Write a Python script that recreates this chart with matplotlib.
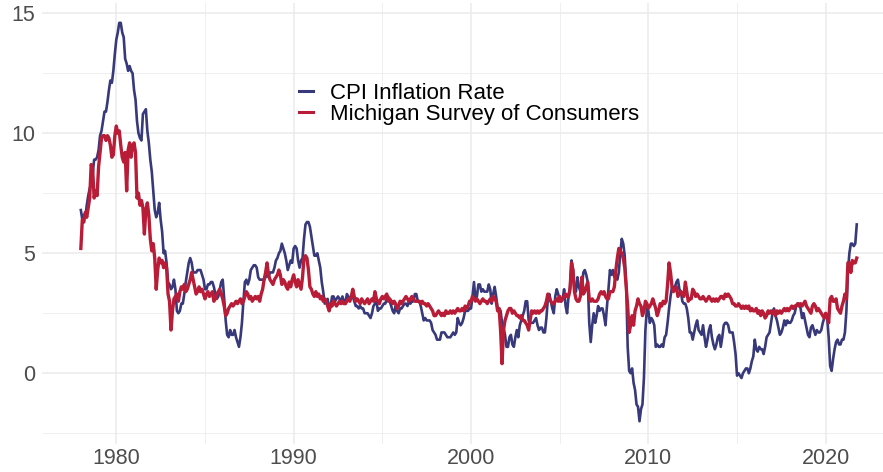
import numpy as np
import matplotlib.pyplot as plt
from matplotlib.ticker import MultipleLocator

# monthly values, Jan 1978 .. Oct 2021
start_year = 1978

cpi_rate = [
    6.8, 6.4, 6.6, 6.5, 7.0, 7.4, 7.7, 7.9, 8.3, 8.9, 8.9, 9.0,
    9.3, 9.9, 10.1, 10.5, 10.9, 10.9, 11.3, 11.8, 12.2, 12.1, 12.6, 13.3,
    13.9, 14.2, 14.6, 14.6, 14.2, 14.0, 13.1, 12.9, 12.6, 12.8, 12.6, 12.5,
    11.8, 11.4, 10.5, 10.0, 9.8, 9.7, 10.8, 10.9, 11.0, 10.1, 9.6, 8.9,
    8.4, 7.6, 6.8, 6.5, 6.7, 7.1, 6.4, 5.9, 5.0, 5.1, 4.6, 3.8,
    3.7, 3.5, 3.6, 3.9, 3.5, 2.6, 2.5, 2.6, 2.9, 2.9, 3.3, 3.8,
    4.2, 4.6, 4.8, 4.6, 4.2, 4.2, 4.2, 4.3, 4.3, 4.3, 4.1, 3.9,
    3.5, 3.5, 3.7, 3.7, 3.8, 3.8, 3.6, 3.3, 3.1, 3.2, 3.5, 3.8,
    3.9, 3.1, 2.2, 1.6, 1.5, 1.8, 1.6, 1.6, 1.8, 1.5, 1.3, 1.1,
    1.5, 2.1, 3.0, 3.8, 3.9, 3.7, 3.9, 4.3, 4.4, 4.5, 4.5, 4.4,
    4.0, 3.9, 3.9, 3.9, 3.9, 4.0, 4.1, 4.0, 4.2, 4.2, 4.2, 4.4,
    4.7, 4.8, 5.0, 5.1, 5.4, 5.2, 5.0, 4.7, 4.3, 4.5, 4.7, 4.6,
    5.2, 5.3, 5.2, 4.7, 4.4, 4.7, 4.8, 5.6, 6.2, 6.3, 6.3, 6.1,
    5.7, 5.3, 4.9, 4.9, 5.0, 4.7, 4.4, 3.8, 3.4, 2.9, 3.0, 3.1,
    2.6, 2.8, 3.2, 3.2, 3.0, 3.1, 3.2, 3.1, 3.0, 3.2, 3.0, 2.9,
    3.3, 3.2, 3.1, 3.2, 3.2, 3.0, 2.8, 2.8, 2.7, 2.8, 2.7, 2.7,
    2.5, 2.5, 2.5, 2.4, 2.3, 2.5, 2.8, 2.9, 3.0, 2.6, 2.7, 2.7,
    2.8, 2.9, 2.9, 3.1, 3.2, 3.0, 2.8, 2.6, 2.5, 2.8, 2.6, 2.5,
    2.7, 2.7, 2.8, 2.9, 2.9, 2.8, 3.0, 2.9, 3.0, 3.0, 3.3, 3.3,
    3.0, 3.0, 2.8, 2.5, 2.2, 2.3, 2.2, 2.2, 2.2, 2.1, 1.8, 1.7,
    1.6, 1.4, 1.4, 1.4, 1.7, 1.7, 1.7, 1.6, 1.5, 1.5, 1.5, 1.6,
    1.7, 1.6, 1.7, 2.3, 2.1, 2.0, 2.1, 2.3, 2.6, 2.6, 2.6, 2.7,
    2.7, 3.2, 3.8, 3.1, 3.2, 3.7, 3.7, 3.4, 3.5, 3.4, 3.4, 3.4,
    3.7, 3.5, 2.9, 3.3, 3.6, 3.2, 2.7, 2.7, 2.6, 2.1, 1.9, 1.6,
    1.1, 1.1, 1.5, 1.6, 1.2, 1.1, 1.5, 1.8, 1.5, 2.0, 2.2, 2.4,
    2.6, 3.0, 3.0, 2.2, 2.1, 2.1, 2.1, 2.2, 2.3, 2.0, 1.8, 1.9,
    1.9, 1.7, 1.7, 2.3, 3.1, 3.3, 3.0, 2.7, 2.5, 3.2, 3.5, 3.3,
    3.0, 3.0, 3.1, 3.5, 2.8, 2.5, 3.2, 3.6, 4.7, 4.3, 3.5, 3.4,
    4.0, 3.6, 3.4, 3.5, 4.2, 4.3, 4.1, 3.8, 2.1, 1.3, 2.0, 2.5,
    2.1, 2.4, 2.8, 2.6, 2.7, 2.7, 2.4, 2.0, 2.8, 3.5, 4.3, 4.1,
    4.3, 4.0, 4.0, 3.9, 4.2, 5.0, 5.6, 5.4, 4.9, 3.7, 1.1, 0.1,
    0.0, 0.2, -0.4, -0.7, -1.3, -1.4, -2.0, -1.5, -1.3, -0.2, 1.8, 2.7,
    2.6, 2.1, 2.3, 2.2, 2.0, 1.1, 1.2, 1.1, 1.1, 1.2, 1.1, 1.5,
    1.6, 2.1, 2.7, 3.2, 3.6, 3.6, 3.6, 3.8, 3.9, 3.5, 3.4, 3.0,
    2.9, 2.9, 2.7, 2.3, 1.7, 1.7, 1.4, 1.7, 2.0, 2.2, 1.8, 1.7,
    1.6, 2.0, 1.5, 1.1, 1.4, 1.8, 2.0, 1.5, 1.2, 1.0, 1.2, 1.5,
    1.6, 1.1, 1.5, 2.0, 2.1, 2.1, 2.0, 1.7, 1.7, 1.7, 1.3, 0.8,
    -0.1, 0.0, -0.1, -0.2, 0.0, 0.1, 0.2, 0.2, 0.0, 0.2, 0.5, 0.7,
    1.4, 1.0, 0.9, 1.1, 1.0, 1.0, 0.8, 1.1, 1.5, 1.6, 1.7, 2.1,
    2.5, 2.7, 2.4, 2.2, 1.9, 1.6, 1.7, 1.9, 2.2, 2.0, 2.2, 2.1,
    2.1, 2.2, 2.4, 2.5, 2.8, 2.9, 2.9, 2.7, 2.3, 2.5, 2.2, 1.9,
    1.6, 1.5, 1.9, 2.0, 1.8, 1.6, 1.8, 1.7, 1.7, 1.8, 2.1, 2.3,
    2.5, 2.3, 1.5, 0.3, 0.1, 0.6, 1.0, 1.3, 1.4, 1.2, 1.2, 1.4,
    1.4, 1.7, 2.6, 4.2, 5.0, 5.4, 5.4, 5.3, 5.4, 6.2,
]

michigan = [
    5.2, 6.4, 6.3, 6.7, 6.5, 6.9, 7.3, 8.7, 8.5, 7.3, 7.6, 7.4,
    8.6, 9.2, 9.8, 9.9, 9.9, 9.7, 9.9, 9.8, 9.5, 9.0, 9.1, 9.9,
    10.3, 10.0, 10.1, 9.5, 9.0, 8.8, 9.2, 7.6, 9.3, 9.6, 9.0, 9.5,
    9.6, 9.2, 7.3, 7.5, 7.0, 7.2, 6.9, 5.8, 6.8, 7.1, 6.6, 5.6,
    5.1, 5.4, 4.8, 3.5, 4.3, 4.8, 4.6, 4.7, 4.4, 4.6, 4.4, 3.3,
    3.0, 1.8, 2.6, 3.1, 3.2, 3.3, 3.0, 3.4, 3.6, 3.5, 3.7, 3.4,
    3.5, 3.7, 3.9, 4.2, 3.9, 3.6, 3.3, 3.4, 3.6, 3.4, 3.5, 3.3,
    3.1, 3.3, 3.4, 3.2, 3.3, 3.4, 3.0, 3.1, 3.3, 3.4, 3.5, 3.3,
    3.1, 2.8, 2.4, 2.5, 2.7, 2.8, 2.9, 2.8, 2.9, 3.0, 2.9, 3.0,
    3.1, 2.9, 3.0, 3.2, 3.4, 3.3, 3.1, 3.2, 3.0, 3.1, 3.2, 3.1,
    3.2, 3.0, 3.3, 3.5, 3.9, 4.2, 4.6, 4.1, 3.9, 3.8, 3.7, 3.9,
    4.0, 4.1, 4.3, 4.1, 3.7, 3.9, 3.8, 3.6, 3.5, 3.8, 3.6, 3.9,
    4.1, 3.8, 3.6, 3.9, 3.7, 3.5, 4.0, 4.8, 4.9, 4.8, 4.3, 3.6,
    3.5, 3.3, 3.2, 3.4, 3.2, 3.3, 3.1, 3.2, 3.0, 3.1, 3.0, 2.8,
    2.6, 2.9, 2.8, 3.0, 2.9, 2.8, 2.9, 3.0, 2.9, 3.0, 2.9, 2.9,
    3.0, 3.1, 3.0, 3.2, 3.5, 3.2, 3.0, 3.1, 3.0, 2.9, 3.1, 3.0,
    2.9, 3.0, 3.1, 2.9, 3.0, 3.1, 3.0, 3.4, 3.1, 3.0, 2.9, 3.1,
    3.2, 3.1, 3.2, 3.3, 3.0, 3.1, 3.0, 2.9, 3.0, 2.9, 2.7, 2.8,
    3.0, 2.9, 3.0, 3.1, 3.2, 3.1, 3.0, 3.1, 3.2, 3.1, 3.0, 3.0,
    3.0, 3.0, 2.9, 3.0, 2.9, 2.9, 2.8, 2.9, 2.8, 2.7, 2.6, 2.4,
    2.4, 2.5, 2.6, 2.5, 2.4, 2.5, 2.4, 2.6, 2.5, 2.5, 2.6, 2.5,
    2.6, 2.5, 2.6, 2.7, 2.6, 2.6, 2.7, 2.6, 2.8, 2.7, 2.8, 3.0,
    3.0, 3.2, 3.1, 3.0, 3.1, 3.0, 2.9, 3.0, 3.1, 3.0, 3.0, 2.9,
    3.0, 3.1, 3.0, 3.2, 3.1, 3.0, 2.6, 2.7, 1.8, 0.4, 1.8, 2.2,
    2.4, 2.6, 2.7, 2.7, 2.5, 2.6, 2.5, 2.4, 2.4, 2.3, 2.4, 2.2,
    2.2, 2.1, 2.0, 1.8, 2.2, 2.6, 2.5, 2.6, 2.5, 2.6, 2.5, 2.6,
    2.6, 2.7, 2.8, 3.0, 3.3, 3.1, 3.0, 2.9, 2.9, 3.0, 3.1, 3.0,
    3.2, 3.0, 3.1, 3.2, 3.3, 3.2, 3.2, 3.5, 4.6, 4.3, 3.4, 3.1,
    3.0, 3.0, 3.2, 4.0, 3.3, 3.4, 3.6, 3.8, 3.1, 3.0, 3.1, 3.0,
    3.0, 3.0, 3.1, 3.3, 3.4, 3.3, 3.4, 3.2, 3.1, 3.1, 3.4, 3.4,
    3.4, 3.6, 4.3, 4.8, 5.2, 5.1, 5.0, 4.8, 4.4, 3.6, 2.8, 1.7,
    2.0, 2.4, 2.0, 2.6, 2.8, 3.1, 2.9, 2.8, 2.4, 2.6, 3.0, 2.9,
    2.7, 2.8, 2.9, 3.1, 2.9, 2.7, 2.4, 2.6, 2.9, 2.8, 3.0, 2.9,
    3.0, 3.7, 4.6, 4.2, 3.6, 3.4, 3.5, 3.6, 3.2, 3.3, 3.4, 3.3,
    3.2, 3.8, 3.4, 3.0, 3.1, 3.1, 3.5, 3.4, 3.2, 3.3, 3.2, 3.1,
    3.1, 3.2, 3.1, 3.0, 3.1, 3.2, 3.1, 3.0, 3.1, 3.0, 3.1, 3.0,
    3.1, 3.2, 3.2, 3.1, 3.3, 3.2, 3.3, 3.2, 3.1, 2.9, 2.9, 2.8,
    2.8, 2.9, 2.8, 2.7, 2.8, 2.7, 2.8, 2.7, 2.8, 2.6, 2.7, 2.6,
    2.6, 2.7, 2.5, 2.6, 2.4, 2.6, 2.5, 2.3, 2.4, 2.6, 2.5, 2.6,
    2.5, 2.6, 2.4, 2.6, 2.5, 2.6, 2.5, 2.6, 2.7, 2.6, 2.7, 2.6,
    2.7, 2.8, 2.7, 2.8, 2.8, 2.9, 2.8, 2.9, 2.8, 2.9, 3.0, 2.8,
    2.7, 2.6, 2.5, 2.8, 2.9, 2.8, 2.6, 2.7, 2.6, 2.5, 2.4, 2.3,
    2.5, 2.4, 2.1, 3.1, 3.2, 3.0, 3.0, 3.1, 2.7, 2.6, 2.5, 2.8,
    3.0, 3.3, 3.1, 4.6, 4.6, 4.2, 4.7, 4.6, 4.6, 4.8,
]

series_names = ["CPI Inflation Rate", "Michigan Survey of Consumers"]
series_colors = ["#37397a", "#b81c36"]

dates = start_year + np.arange(len(cpi_rate)) / 12.0

plt.rcParams['font.family'] = ['Liberation Sans', 'DejaVu Sans']

fig = plt.figure(figsize=(8.83, 4.72), dpi=100)
ax = fig.add_axes([42 / 883, 1 - 443.8 / 472, (883 - 42) / 883, (443.8 - 2.7) / 472])

ax.plot(dates, cpi_rate, color=series_colors[0], lw=1.9, label=series_names[0],
        solid_joinstyle='round')
ax.plot(dates, michigan, color=series_colors[1], lw=2.4, label=series_names[1],
        solid_joinstyle='round')

ax.set_xlim(1975.81, 2023.23)
ax.set_ylim(-2.94, 15.44)

ax.xaxis.set_major_locator(MultipleLocator(10))
ax.xaxis.set_minor_locator(MultipleLocator(5))
ax.yaxis.set_major_locator(MultipleLocator(5))
ax.yaxis.set_minor_locator(MultipleLocator(2.5))

ax.grid(which='major', color='#ebebeb', lw=1.1)
ax.grid(which='minor', color='#ebebeb', lw=0.55)
ax.set_axisbelow(True)
for s in ax.spines.values():
    s.set_visible(False)
ax.tick_params(which='both', length=0, labelsize=15.5, labelcolor='#4d4d4d')
ax.tick_params(axis='x', pad=3)
ax.tick_params(axis='y', pad=5)

leg = ax.legend(loc='upper left', bbox_to_anchor=(299 / 883, 1 - 83 / 472),
                bbox_transform=fig.transFigure, frameon=False, fontsize=16,
                handlelength=0.63, handletextpad=0.77, labelspacing=0.0,
                borderpad=0, borderaxespad=0)
for line in leg.get_lines():
    line.set_linewidth(2.2)

fig.savefig('out.png', dpi=100)
